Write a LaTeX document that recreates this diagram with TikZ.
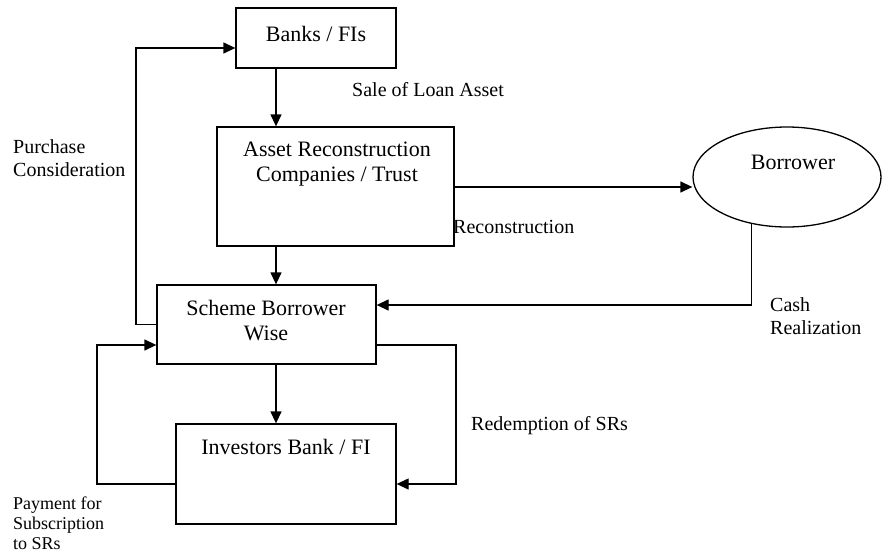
\documentclass[tikz,border=0pt]{standalone}
\usepackage{fontspec}
\setmainfont{Liberation Serif}
\usetikzlibrary{arrows.meta,shapes.geometric}
\begin{document}
\begin{tikzpicture}[x=1pt,y=-1pt,
  box/.style={draw, line width=1.3pt, inner sep=0pt},
  boxtext/.style={font=\fontsize{22}{25}\selectfont, align=center, inner sep=0pt},
  lbl/.style={font=\fontsize{20}{23}\selectfont, align=left, inner sep=0pt, anchor=west},
  conn/.style={line width=1.3pt},
  arr/.style={conn, -{Triangle[length=12pt,width=11pt]}}]
\useasboundingbox (0,0) rectangle (882,554);
% boxes
\node[box, minimum width=160pt, minimum height=60pt] (banks) at (316,38) {};
\node[boxtext] (banksT) at (316,34) {Banks / FIs};
\node[box, minimum width=237pt, minimum height=119pt] (arc) at (335.5,186.5) {};
\node[boxtext] (arcT) at (337,164.5) {Asset Reconstruction\\Companies / Trust};
\node[draw, ellipse, line width=1.3pt, inner sep=0pt, minimum width=188pt, minimum height=100pt] (borrower) at (787,177) {};
\node[boxtext] (borrowerT) at (793,162) {Borrower};
\node[box, minimum width=219pt, minimum height=79pt] (scheme) at (266.5,324.5) {};
\node[boxtext] (schemeT) at (266,320.5) {Scheme Borrower\\Wise};
\node[box, minimum width=220pt, minimum height=100pt] (inv) at (286,474) {};
\node[boxtext] (invT) at (286,447) {Investors Bank / FI};
% helper coordinates
\coordinate (cx) at (276,0);
\coordinate (ry) at (0,187);
\coordinate (cashy) at (0,305);
\coordinate (redy) at (0,345);
\coordinate (redx) at (456,0);
\coordinate (invy) at (0,484);
\coordinate (payx) at (97,0);
\coordinate (purx) at (136,0);
\coordinate (pury) at (0,48);
% connectors
\draw[arr] (banks.south -| cx) -- (arc.north -| cx);
\draw[arr] (arc.east |- ry) -- (ry -| borrower.west);
\draw[arr] (arc.south -| cx) -- (scheme.north -| cx);
\draw[arr] (scheme.south -| cx) -- (inv.north -| cx);
\draw[arr] (borrower.233) -- (borrower.233 |- cashy) -- (scheme.east |- cashy);
\draw[arr] (scheme.east |- redy) -- (redx |- redy) -- (redx |- invy) -- (inv.east |- invy);
\draw[arr] (inv.west |- invy) -- (payx |- invy) -- (payx |- redy) -- (scheme.west |- redy);
\draw[arr] (scheme.west) -- (purx |- scheme.west) -- (purx |- pury) -- (banks.west |- pury);
% labels
\node[lbl] (sale) at (352,90) {Sale of Loan Asset};
\node[lbl] (purch) at (13,158.5) {Purchase\\Consideration};
\node[lbl] (recon) at (453,227) {Reconstruction};
\node[lbl] (cash) at (770,316) {Cash\\Realization};
\node[lbl] (redem) at (471,426) {Redemption of SRs};
\node[lbl, font=\fontsize{18}{20}\selectfont] (pay) at (13,523) {Payment for\\Subscription\\to SRs};
\end{tikzpicture}
\end{document}
